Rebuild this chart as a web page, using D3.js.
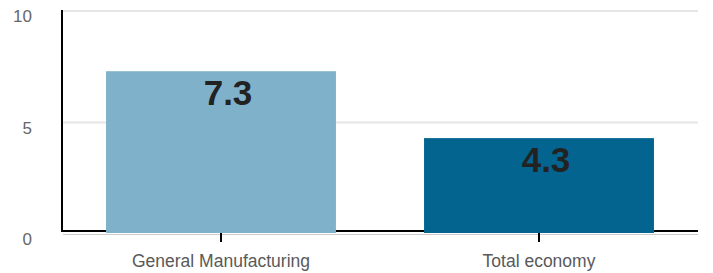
<!DOCTYPE html>
<html>
<head>
<meta charset="utf-8">
<script src="https://cdn.jsdelivr.net/npm/d3@7"></script>
<style>
  body { margin: 0; background: #fff; }
  svg { display: block; font-family: "Liberation Sans", Arial, sans-serif; }
</style>
</head>
<body>
<svg id="chart" width="713" height="273"></svg>
<script>
"use strict";

// Chart data
var categories = ["General Manufacturing", "Total economy"],
    values = [7.3, 4.3],
    barColors = ["#80b1ca", "#03658f"],
    yTicks = [0, 5, 10];

var svg = d3.select("#chart");

var x = d3.scaleBand()
    .domain(categories)
    .range([62, 698])
    .paddingInner(0.277)
    .paddingOuter(0.1385);

var y = d3.scaleLinear()
    .domain([0, 10])
    .range([234, 11]);

// gridlines
svg.append("g")
    .selectAll("line")
    .data(yTicks.filter(function (t) { return t > 0; }))
    .enter().append("line")
    .attr("x1", 62).attr("x2", 698)
    .attr("y1", function (d) { return y(d); })
    .attr("y2", function (d) { return y(d); })
    .attr("stroke", "#e6e6e6")
    .attr("stroke-width", 2);

// y tick labels (no axis line, no ticks)
var yAxis = svg.append("g")
    .attr("transform", "translate(32,0)")
    .call(d3.axisLeft(y).tickValues(yTicks).tickSize(0).tickPadding(0));
yAxis.select(".domain").remove();
yAxis.selectAll("text")
    .attr("dy", "0.75em")
    .attr("y", -2)
    .attr("fill", "#666")
    .style("font-size", "17px")
    .style("font-family", "Liberation Sans, Arial, sans-serif");

// black axis lines
svg.append("line")
    .attr("x1", 62).attr("x2", 62)
    .attr("y1", y(10) - 1).attr("y2", 232)
    .attr("stroke", "#000").attr("stroke-width", 2);
svg.append("line")
    .attr("x1", 61).attr("x2", 698)
    .attr("y1", 231).attr("y2", 231)
    .attr("stroke", "#000").attr("stroke-width", 2);
svg.append("line")
    .attr("x1", 63).attr("x2", 698)
    .attr("y1", 234.5).attr("y2", 234.5)
    .attr("stroke", "#cccccc").attr("stroke-width", 1);

// bars
svg.append("g")
    .selectAll("rect")
    .data(values)
    .enter().append("rect")
    .attr("x", function (d, i) { return x(categories[i]); })
    .attr("width", x.bandwidth())
    .attr("y", function (d) { return y(d); })
    .attr("height", function (d) { return 233 - y(d); })
    .attr("fill", function (d, i) { return barColors[i]; });

// value labels (sit a little right of the bar centre, as in the original)
svg.append("g")
    .selectAll("text")
    .data(values)
    .enter().append("text")
    .attr("x", function (d, i) { return x(categories[i]) + x.bandwidth() / 2 + 7; })
    .attr("y", function (d) { return y(d) + 34; })
    .attr("text-anchor", "middle")
    .attr("fill", "#222")
    .style("font-size", "35px")
    .style("font-weight", "bold")
    .text(function (d) { return d.toFixed(1); });

// x axis ticks + category labels
var xAxis = svg.append("g")
    .attr("transform", "translate(0,233)")
    .call(d3.axisBottom(x).tickSize(9).tickPadding(13));
xAxis.select(".domain").remove();
xAxis.selectAll(".tick line")
    .attr("stroke", "#000")
    .attr("stroke-width", 2);
xAxis.selectAll("text")
    .attr("fill", "#595959")
    .style("font-size", "17.5px")
    .style("font-family", "Liberation Sans, Arial, sans-serif");
</script>
</body>
</html>
